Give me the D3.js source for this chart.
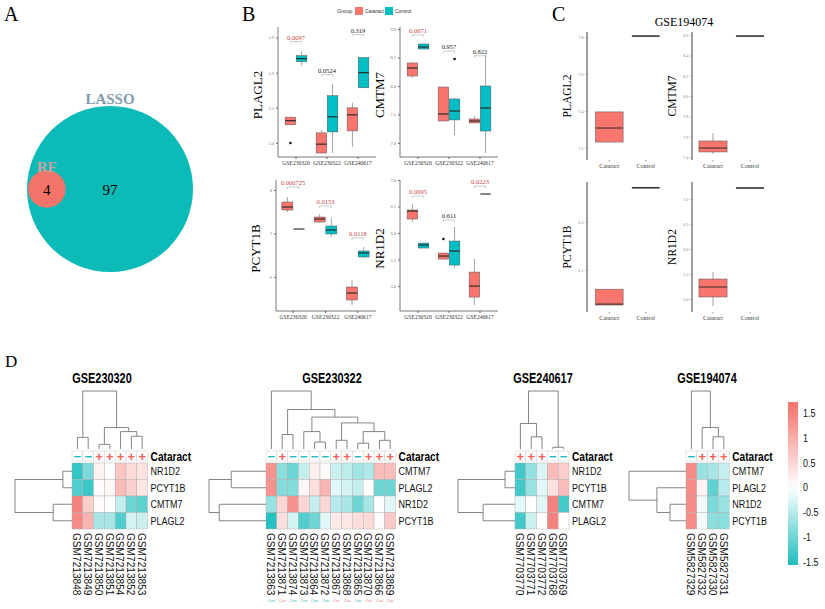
<!DOCTYPE html>
<html>
<head>
<meta charset="utf-8">
<script src="https://cdn.jsdelivr.net/npm/d3@7"></script>
<style>
  body { margin: 0; background: #fff; }
  svg { display: block; }
</style>
</head>
<body>
<div id="chart"></div>
<script>
// ---------------- data ----------------
// panel A: venn of selected genes
const vennSets = ["LASSO", "RF"];
const vennTotals = [101, 4];
const vennRegions = [97, 4]; // LASSO only, shared

// panel B: expression by dataset, box stats = [min, q1, median, q3, max]
const groupsB = ["GSE230320", "GSE230322", "GSE240617"];

const plagl2Cat = [[5.15, 5.155, 5.19, 5.22, 5.225], [4.914, 4.914, 4.99, 5.086, 5.11], [4.966, 5.103, 5.24, 5.30, 5.343]];
const plagl2Con = [[5.66, 5.694, 5.72, 5.746, 5.78], [4.914, 5.094, 5.223, 5.403, 5.506], [5.471, 5.471, 5.6, 5.729, 5.729]];
const plagl2CatOut = [[5.0], [], []];
const plagl2ConOut = [[], [], []];
const plagl2P = ["0.0097", "0.0524", "0.319"];
const plagl2Hi = [true, false, false];
const plagl2PAt = [5.9, 5.617, 5.96];
const plagl2Ticks = [5.0, 5.3, 5.6, 5.9];

const cmtm7Cat = [[8.14, 8.175, 8.316, 8.404, 8.421], [7.386, 7.386, 7.509, 7.982, 7.982], [7.351, 7.351, 7.386, 7.421, 7.474]];
const cmtm7Con = [[8.649, 8.649, 8.684, 8.737, 8.737], [7.14, 7.404, 7.561, 7.772, 7.789], [6.825, 7.21, 7.614, 8.0, 8.544]];
const cmtm7CatOut = [[], [], []];
const cmtm7ConOut = [[], [8.474], []];
const cmtm7P = ["0.0671", "0.957", "0.822"];
const cmtm7Hi = [true, false, false];
const cmtm7PAt = [8.965, 8.684, 8.6];
const cmtm7Ticks = [7.0, 7.5, 8.0, 8.5, 9.0];

const pcyt1bCat = [[7.494, 7.54, 7.609, 7.724, 7.839], [7.241, 7.264, 7.333, 7.379, 7.448], [5.356, 5.471, 5.632, 5.77, 5.931]];
const pcyt1bCon = [[7.103, 7.103, 7.103, 7.103, 7.103], [6.92, 6.989, 7.08, 7.172, 7.356], [6.437, 6.46, 6.552, 6.598, 6.69]];
const pcyt1bCatOut = [[], [], []];
const pcyt1bConOut = [[], [], []];
const pcyt1bP = ["0.000725", "0.0153", "0.0118"];
const pcyt1bHi = [true, true, true];
const pcyt1bPAt = [8.16, 7.724, 6.99];
const pcyt1bTicks = [6, 7, 8];

const nr1d2Cat = [[6.208, 6.264, 6.415, 6.434, 6.547], [5.509, 5.509, 5.566, 5.623, 5.623], [4.642, 4.792, 5.0, 5.264, 5.509]];
const nr1d2Con = [[5.717, 5.717, 5.774, 5.811, 5.811], [5.34, 5.396, 5.66, 5.849, 6.113], [6.736, 6.736, 6.736, 6.736, 6.736]];
const nr1d2CatOut = [[], [5.887], []];
const nr1d2ConOut = [[], [], []];
const nr1d2P = ["0.0095", "0.611", "0.0223"];
const nr1d2Hi = [true, false, true];
const nr1d2PAt = [6.774, 6.32, 6.962];
const nr1d2Ticks = [5.0, 5.5, 6.0, 6.5, 7.0];

// panel C: GSE194074
const genesC = ["PLAGL2", "CMTM7", "PCYT1B", "NR1D2"];
const conditions = ["Cataract", "Control"];
const cCataract = [[7.232, 7.232, 7.308, 7.395, 7.395], [7.43, 7.45, 7.489, 7.558, 7.636], [5.027, 5.027, 5.029, 5.06, 5.06], [4.86, 5.04, 5.24, 5.4, 5.54]];
const cControl = [7.805, 8.59, 5.271, 7.22];
const cTicks = [[7.2, 7.4, 7.6, 7.8], [7.4, 7.6, 7.8, 8.0, 8.2, 8.4, 8.6], [5.1, 5.2], [5.0, 5.5, 6.0, 6.5, 7.0]];
const cDomains = [[7.135, 7.827], [7.371, 8.63], [5.0125, 5.283], [4.74, 7.34]];

// panel D: heatmaps (row-scaled z scores)
const h1Samples = ["GSM7213848", "GSM7213849", "GSM7213850", "GSM7213851", "GSM7213854", "GSM7213852", "GSM7213853"];
const h1Groups = ["-", "-", "+", "+", "+", "+", "+"];
const h1Genes = ["NR1D2", "PCYT1B", "CMTM7", "PLAGL2"];
const h1Values = [
  [-1.4, -0.9, 0.15, 0.0, 0.7, 0.45, 0.35],
  [-1.2, -1.35, 0.05, 0.1, 0.8, 0.55, 0.3],
  [1.5, 0.6, 0.05, 0.0, -0.4, -1.0, -1.1],
  [1.4, 0.9, -0.6, -0.6, -1.2, -0.3, -0.35]
];
const h1ColTree = {h: 1, c: [{h: 0.2, c: [0, 1]}, {h: 0.37, c: [{h: 0.08, c: [2, 3]}, {h: 0.3, c: [4, {h: 0.22, c: [5, 6]}]}]}]};
const h1RowTree = {h: 1, c: [{h: 0.16, c: [0, 1]}, {h: 0.33, c: [2, 3]}]};

const h2Samples = ["GSM7213863", "GSM7213871", "GSM7213874", "GSM7213873", "GSM7213864", "GSM7213872", "GSM7213867", "GSM7213868", "GSM7213865", "GSM7213870", "GSM7213866", "GSM7213869"];
const h2Groups = ["-", "+", "-", "-", "-", "-", "+", "+", "-", "+", "+", "+"];
const h2Genes = ["CMTM7", "PLAGL2", "NR1D2", "PCYT1B"];
const h2Values = [
  [1.3, -0.8, -1.0, -0.4, 0.2, 0.05, -0.35, -0.45, -0.65, -0.55, 0.8, 0.8],
  [1.3, -0.85, -0.85, 0.1, 0.4, 0.9, -0.2, -0.3, -0.4, 0.0, -1.0, -1.0],
  [-0.7, 0.5, 1.3, 0.5, -0.4, 0.5, -0.5, -0.6, -1.0, -0.6, 0.0, -0.2],
  [-1.5, 0.4, -0.3, -1.2, -1.0, -0.2, 0.25, 0.3, 0.4, 0.45, 0.05, 0.65]
];
const h2ColTree = {h: 1, c: [0, {h: 0.68, c: [{h: 0.25, c: [1, 2]}, {h: 0.55, c: [{h: 0.3, c: [3, {h: 0.12, c: [4, 5]}]}, {h: 0.45, c: [{h: 0.15, c: [6, 7]}, {h: 0.3, c: [{h: 0.1, c: [8, 9]}, {h: 0.15, c: [10, 11]}]}]}]}]}]};
const h2RowTree = {h: 1, c: [{h: 0.61, c: [0, 1]}, {h: 0.82, c: [2, 3]}]};

const h3Samples = ["GSM7703770", "GSM7703771", "GSM7703772", "GSM7703768", "GSM7703769"];
const h3Groups = ["+", "+", "+", "-", "-"];
const h3Genes = ["NR1D2", "PCYT1B", "CMTM7", "PLAGL2"];
const h3Values = [
  [-1.3, -0.75, -0.25, 0.8, 0.6],
  [-1.3, -0.7, -0.2, 0.35, 0.8],
  [-0.2, 0.0, -0.2, 1.5, -1.3],
  [-1.3, -0.35, 0.0, 1.5, 0.0]
];
const h3ColTree = {h: 1, c: [{h: 0.44, c: [0, {h: 0.21, c: [1, 2]}]}, {h: 0.03, c: [3, 4]}]};
const h3RowTree = {h: 1, c: [{h: 0.175, c: [0, 1]}, {h: 0.56, c: [2, 3]}]};

const h4Samples = ["GSM5827329", "GSM5827332", "GSM5827330", "GSM5827331"];
const h4Groups = ["-", "+", "+", "+"];
const h4Genes = ["CMTM7", "PLAGL2", "NR1D2", "PCYT1B"];
const h4Values = [
  [1.4, -0.7, -0.6, -0.4],
  [1.4, 0.15, -1.1, -0.5],
  [1.4, -0.1, -0.9, -0.7],
  [1.4, -0.1, -0.8, -0.8]
];
const h4ColTree = {h: 1, c: [0, {h: 0.37, c: [1, {h: 0.21, c: [2, 3]}]}]};
const h4RowTree = {h: 1, c: [0, {h: 0.51, c: [1, {h: 0.28, c: [2, 3]}]}]};

const legendTicks = [1.5, 1, 0.5, 0, -0.5, -1, -1.5];
const colorRange = [-1.56, 1.72];

// ---------------- drawing ----------------
const serifF = "'Liberation Serif', 'Times New Roman', serif";
const sansF = "'Liberation Sans', Arial, Helvetica, sans-serif";
const boxRed = "#F8766D", boxTeal = "#00BFC4";
const heatRed = "#F4706B", heatTeal = "#1DBEBE";
const sigRed = "#C9463D";

const svg = d3.select("#chart").append("svg")
  .attr("width", 825).attr("height", 609)
  .style("font-family", serifF);

// panel letters
[["A", 4, 21], ["B", 242, 21], ["C", 552, 21]].forEach(d => {
  svg.append("text").attr("x", d[1]).attr("y", d[2]).text(d[0]).attr("font-size", "20px");
});
svg.append("text").attr("x", 5).attr("y", 367).text("D").attr("font-size", "17px");

// ----- A: venn -----
const vennR = d3.scalePow().exponent(0.46).domain([0, vennTotals[0]]).range([0, 83]);
const rL = vennR(vennTotals[0]), rF = vennR(vennTotals[1]);
const vcx = 110, vcy = 189;
const fcx = vcx - rL + rF + 1;
svg.append("circle").attr("cx", vcx).attr("cy", vcy).attr("r", rL).attr("fill", "#0CBAB7");
svg.append("circle").attr("cx", fcx).attr("cy", vcy).attr("r", rF).attr("fill", "#F4736A");
svg.append("text").attr("x", vcx).attr("y", vcy - rL - 2).attr("text-anchor", "middle")
  .attr("font-size", "15px").attr("font-weight", "bold").attr("fill", "#7F9CB0").text(vennSets[0]);
svg.append("text").attr("x", fcx).attr("y", vcy - rF + 2).attr("text-anchor", "middle")
  .attr("font-size", "15px").attr("font-weight", "bold").attr("fill", "#C9A3A3").text(vennSets[1]);
svg.append("text").attr("x", vcx).attr("y", vcy + 6).attr("text-anchor", "middle")
  .attr("font-size", "15px").text(vennRegions[0]);
svg.append("text").attr("x", fcx).attr("y", vcy + 6).attr("text-anchor", "middle")
  .attr("font-size", "15px").text(vennRegions[1]);

// ----- B: legend -----
svg.append("text").attr("x", 337).attr("y", 13).attr("font-size", "5.5px").attr("font-family", sansF).attr("fill", "#333").text("Group");
svg.append("rect").attr("x", 355).attr("y", 7).attr("width", 8).attr("height", 8).attr("fill", boxRed);
svg.append("text").attr("x", 365).attr("y", 13).attr("font-size", "5px").attr("font-family", sansF).attr("fill", "#333").text("Cataract");
svg.append("rect").attr("x", 385).attr("y", 7).attr("width", 8).attr("height", 8).attr("fill", boxTeal);
svg.append("text").attr("x", 395).attr("y", 13).attr("font-size", "5px").attr("font-family", sansF).attr("fill", "#333").text("Control");

// ----- B: box plots -----
const bPanels = [
  {gene: "PLAGL2", cat: plagl2Cat, con: plagl2Con, catOut: plagl2CatOut, conOut: plagl2ConOut, p: plagl2P, hi: plagl2Hi, pAt: plagl2PAt, ticks: plagl2Ticks, fmt: ".1f", dom: [4.88, 5.99], x0: 278, x1: 376, y0: 27, y1: 157, bx: [280.5, 373.5]},
  {gene: "CMTM7", cat: cmtm7Cat, con: cmtm7Con, catOut: cmtm7CatOut, conOut: cmtm7ConOut, p: cmtm7P, hi: cmtm7Hi, pAt: cmtm7PAt, ticks: cmtm7Ticks, fmt: ".1f", dom: [6.754, 9.035], x0: 400, x1: 498, y0: 27, y1: 157, bx: [402.5, 495.5]},
  {gene: "PCYT1B", cat: pcyt1bCat, con: pcyt1bCon, catOut: pcyt1bCatOut, conOut: pcyt1bConOut, p: pcyt1bP, hi: pcyt1bHi, pAt: pcyt1bPAt, ticks: pcyt1bTicks, fmt: "d", dom: [5.218, 8.23], x0: 276, x1: 376, y0: 180, y1: 311, bx: [277, 374]},
  {gene: "NR1D2", cat: nr1d2Cat, con: nr1d2Con, catOut: nr1d2CatOut, conOut: nr1d2ConOut, p: nr1d2P, hi: nr1d2Hi, pAt: nr1d2PAt, ticks: nr1d2Ticks, fmt: ".1f", dom: [4.53, 7.0], x0: 400, x1: 498, y0: 180, y1: 311, bx: [402.5, 495.5]}
];

function drawBox(g, cx, bw, ys, s, out, fill, strokeW) {
  const [mn, q1, md, q3, mx] = s;
  g.append("line").attr("x1", cx).attr("x2", cx).attr("y1", ys(mx)).attr("y2", ys(q3)).attr("stroke", "#666").attr("stroke-width", 0.6);
  g.append("line").attr("x1", cx).attr("x2", cx).attr("y1", ys(q1)).attr("y2", ys(mn)).attr("stroke", "#666").attr("stroke-width", 0.6);
  if (ys(q1) - ys(q3) > 0.5) {
    g.append("rect").attr("x", cx - bw / 2).attr("y", ys(q3)).attr("width", bw).attr("height", ys(q1) - ys(q3))
      .attr("fill", fill).attr("stroke", "#555").attr("stroke-width", 0.5);
  }
  g.append("line").attr("x1", cx - bw / 2).attr("x2", cx + bw / 2).attr("y1", ys(md)).attr("y2", ys(md))
    .attr("stroke", "#222").attr("stroke-width", strokeW);
  out.forEach(v => g.append("circle").attr("cx", cx).attr("cy", ys(v)).attr("r", 1.3).attr("fill", "#111"));
}

bPanels.forEach(p => {
  const g = svg.append("g");
  const ys = d3.scaleLinear().domain(p.dom).range([p.y1, p.y0]);
  const xb = d3.scaleBand().domain(groupsB).range(p.bx);
  const bw = xb.bandwidth() * 0.34;
  const off = xb.bandwidth() * 0.18;

  const ya = g.append("g").attr("transform", `translate(${p.x0},0)`)
    .call(d3.axisLeft(ys).tickValues(p.ticks).tickSize(2).tickPadding(2).tickFormat(d3.format(p.fmt)));
  ya.attr("font-family", serifF).attr("font-size", "4.5px");
  ya.select(".domain").remove();
  ya.selectAll("text").attr("fill", "#777");
  ya.selectAll("line").attr("stroke", "#777");

  const xa = g.append("g").attr("transform", `translate(0,${p.y1})`)
    .call(d3.axisBottom(xb).tickSize(2).tickPadding(2));
  xa.attr("font-family", serifF).attr("font-size", "5.6px");
  xa.select(".domain").remove();
  xa.selectAll("text").attr("fill", "#333");
  xa.selectAll("line").attr("stroke", "#666");

  g.append("line").attr("x1", p.x0).attr("x2", p.x0).attr("y1", p.y0).attr("y2", p.y1).attr("stroke", "#555").attr("stroke-width", 0.8);
  g.append("line").attr("x1", p.x0).attr("x2", p.x1).attr("y1", p.y1).attr("y2", p.y1).attr("stroke", "#555").attr("stroke-width", 0.8);

  g.append("text").attr("transform", `translate(${p.x0 - 16},${(p.y0 + p.y1) / 2 + 3}) rotate(-90)`)
    .attr("text-anchor", "middle").attr("font-size", "13px").text(p.gene);

  groupsB.forEach((grp, i) => {
    const c = xb(grp) + xb.bandwidth() / 2;
    drawBox(g, c - off, bw, ys, p.cat[i], p.catOut[i], boxRed, 1.1);
    drawBox(g, c + off, bw, ys, p.con[i], p.conOut[i], boxTeal, 1.1);
    const yy = ys(p.pAt[i]);
    g.append("text").attr("x", c).attr("y", yy + 2).attr("text-anchor", "middle")
      .attr("font-size", "6.5px").attr("fill", p.hi[i] ? sigRed : "#222").text(p.p[i]);
    g.append("path").attr("d", `M${c - off},${yy + 6}V${yy + 4}H${c + off}V${yy + 6}`)
      .attr("fill", "none").attr("stroke", "#999").attr("stroke-width", 0.5);
  });
});

// ----- C: GSE194074 -----
svg.append("text").attr("x", 684).attr("y", 26).attr("text-anchor", "middle").attr("font-size", "12px").text("GSE194074");
const cLayout = [
  {x0: 587, y0: 32, y1: 160, bx: [591, 664]},
  {x0: 692, y0: 32, y1: 160, bx: [694.5, 768.5]},
  {x0: 587, y0: 182, y1: 312, bx: [591, 664]},
  {x0: 692, y0: 182, y1: 312, bx: [694.5, 768.5]}
];
genesC.forEach((gene, i) => {
  const L = cLayout[i];
  const g = svg.append("g");
  const ys = d3.scaleLinear().domain(cDomains[i]).range([L.y1, L.y0]);
  const xb = d3.scaleBand().domain(conditions).range(L.bx);
  const bw = xb.bandwidth() * 0.76;

  const ya = g.append("g").attr("transform", `translate(${L.x0},0)`)
    .call(d3.axisLeft(ys).tickValues(cTicks[i]).tickSize(1.5).tickPadding(2).tickFormat(d3.format(".1f")));
  ya.attr("font-family", serifF).attr("font-size", "4.5px");
  ya.select(".domain").remove();
  ya.selectAll("text").attr("fill", "#888");
  ya.selectAll("line").attr("stroke", "#888");
  g.append("line").attr("x1", L.x0).attr("x2", L.x0).attr("y1", L.y0).attr("y2", L.y1).attr("stroke", "#888").attr("stroke-width", 1.6);

  const xa = g.append("g").attr("transform", `translate(0,${L.y1})`)
    .call(d3.axisBottom(xb).tickSize(1.5).tickPadding(2));
  xa.attr("font-family", serifF).attr("font-size", "6px");
  xa.select(".domain").remove();
  xa.selectAll("text").attr("fill", "#333");
  xa.selectAll("line").attr("stroke", "#999");

  g.append("text").attr("transform", `translate(${L.x0 - 16},${(L.y0 + L.y1) / 2}) rotate(-90)`)
    .attr("text-anchor", "middle").attr("font-size", "11.5px").text(gene);

  drawBox(g, xb("Cataract") + xb.bandwidth() / 2, bw, ys, cCataract[i], [], boxRed, 0.9);
  const cc = xb("Control") + xb.bandwidth() / 2;
  g.append("line").attr("x1", cc - bw / 2).attr("x2", cc + bw / 2)
    .attr("y1", ys(cControl[i])).attr("y2", ys(cControl[i])).attr("stroke", "#333").attr("stroke-width", 1.6);
});

// ----- D: heatmaps -----
const color = d3.scaleLinear().domain([colorRange[0], 0, colorRange[1]]).range([heatTeal, "#FFFFFF", heatRed]).clamp(true);
const cellW = 10.8, heatTop = 463, cellH = 16.5, annTop = 451, annH = 10;
const narrow = 0.78;

function layoutTree(node, leafPos) {
  if (typeof node === "number") return {p: leafPos(node), h: 0};
  const kids = node.c.map(k => layoutTree(k, leafPos));
  return {p: d3.mean(kids, k => k.p), h: node.h, kids: kids};
}
function treeSegments(n, out) {
  if (!n.kids) return out;
  n.kids.forEach(k => { out.push([k.p, k.h, k.p, n.h]); treeSegments(k, out); });
  out.push([d3.min(n.kids, k => k.p), n.h, d3.max(n.kids, k => k.p), n.h]);
  return out;
}

const heatmaps = [
  {title: "GSE230320", samples: h1Samples, groups: h1Groups, genes: h1Genes, values: h1Values, colTree: h1ColTree, rowTree: h1RowTree, x0: 72, titleX: 102},
  {title: "GSE230322", samples: h2Samples, groups: h2Groups, genes: h2Genes, values: h2Values, colTree: h2ColTree, rowTree: h2RowTree, x0: 266, titleX: 332, tags: true},
  {title: "GSE240617", samples: h3Samples, groups: h3Groups, genes: h3Genes, values: h3Values, colTree: h3ColTree, rowTree: h3RowTree, x0: 515, titleX: 543},
  {title: "GSE194074", samples: h4Samples, groups: h4Groups, genes: h4Genes, values: h4Values, colTree: h4ColTree, rowTree: h4RowTree, x0: 686, titleX: 707}
];

heatmaps.forEach(hm => {
  const g = svg.append("g").attr("font-family", sansF);
  const nC = hm.samples.length, nR = hm.genes.length;
  const xc = d3.scaleBand().domain(d3.range(nC)).range([hm.x0, hm.x0 + nC * cellW]);
  const yr = d3.scaleBand().domain(d3.range(nR)).range([heatTop, heatTop + nR * cellH]);
  const right = hm.x0 + nC * cellW;

  // title
  g.append("text").attr("transform", `translate(${hm.titleX},383) scale(${narrow},1)`)
    .attr("text-anchor", "middle").attr("font-size", "14px").attr("font-weight", "bold").text(hm.title);

  // column dendrogram
  const hy = d3.scaleLinear().domain([0, 1]).range([449, 391]);
  const colSegs = treeSegments(layoutTree(hm.colTree, i => xc(i) + xc.bandwidth() / 2), []);
  g.selectAll(".cseg").data(colSegs).enter().append("line")
    .attr("x1", d => d[0]).attr("y1", d => hy(d[1])).attr("x2", d => d[2]).attr("y2", d => hy(d[3]))
    .attr("stroke", "#777").attr("stroke-width", 0.9);

  // row dendrogram
  const hx = d3.scaleLinear().domain([0, 1]).range([hm.x0, hm.x0 - 57]);
  const rowSegs = treeSegments(layoutTree(hm.rowTree, i => yr(i) + yr.bandwidth() / 2), []);
  g.selectAll(".rseg").data(rowSegs).enter().append("line")
    .attr("x1", d => hx(d[1])).attr("y1", d => d[0]).attr("x2", d => hx(d[3])).attr("y2", d => d[2])
    .attr("stroke", "#777").attr("stroke-width", 0.9);

  // annotation row
  g.selectAll(".ann").data(hm.groups).enter().append("rect")
    .attr("x", (d, i) => xc(i)).attr("y", annTop).attr("width", xc.bandwidth()).attr("height", annH)
    .attr("fill", "#fff").attr("stroke", "#ccc").attr("stroke-width", 0.5);
  g.selectAll(".annsym").data(hm.groups).enter().append("text")
    .attr("x", (d, i) => xc(i) + xc.bandwidth() / 2).attr("y", annTop + annH / 2 + 0.5)
    .attr("text-anchor", "middle").attr("dominant-baseline", "central")
    .attr("font-size", "13px").attr("font-weight", "bold")
    .attr("fill", d => d === "+" ? "#F0625C" : "#1DBEBE")
    .text(d => d === "+" ? "+" : "\u2212");
  g.append("text").attr("transform", `translate(${right + 3},${annTop + annH / 2}) scale(${narrow},1)`)
    .attr("dominant-baseline", "central").attr("font-size", "13px").attr("font-weight", "bold").text("Cataract");

  // cells
  const cells = [];
  hm.values.forEach((row, r) => row.forEach((v, c) => cells.push({r: r, c: c, v: v})));
  g.selectAll(".cell").data(cells).enter().append("rect")
    .attr("x", d => xc(d.c)).attr("y", d => yr(d.r))
    .attr("width", xc.bandwidth()).attr("height", yr.bandwidth())
    .attr("fill", d => color(d.v)).attr("stroke", "#aaa").attr("stroke-width", 0.4);

  // row labels
  g.selectAll(".rlab").data(hm.genes).enter().append("text")
    .attr("transform", (d, i) => `translate(${right + 3},${yr(i) + yr.bandwidth() / 2}) scale(${narrow},1)`)
    .attr("dominant-baseline", "central").attr("font-size", "11.5px").attr("fill", "#111").text(d => d);

  // column labels
  g.selectAll(".clab").data(hm.samples).enter().append("text")
    .attr("transform", (d, i) => `translate(${xc(i) + xc.bandwidth() / 2},${heatTop + nR * cellH + 4}) rotate(90) scale(0.88,1)`)
    .attr("dy", "0.36em").attr("font-size", "11.5px").attr("fill", "#111").text(d => d);

  if (hm.tags) {
    g.selectAll(".tag").data(hm.groups).enter().append("text")
      .attr("x", (d, i) => xc(i) + xc.bandwidth() / 2).attr("y", 602)
      .attr("text-anchor", "middle").attr("font-size", "4px")
      .attr("fill", d => d === "+" ? "#E0766F" : "#3FB8B8")
      .text(d => d === "+" ? "Cat" : "Con");
  }
});

// colour bar
const legY = d3.scaleLinear().domain([-1.5, 1.5]).range([562, 413]);
const defs = svg.append("defs");
const grad = defs.append("linearGradient").attr("id", "hmgrad").attr("x1", 0).attr("x2", 0).attr("y1", 0).attr("y2", 1);
d3.range(0, 1.0001, 0.05).forEach(t => {
  const v = colorRange[1] - t * (colorRange[1] - colorRange[0]);
  grad.append("stop").attr("offset", t).attr("stop-color", color(v));
});
svg.append("rect").attr("x", 788).attr("y", legY(colorRange[1])).attr("width", 10)
  .attr("height", legY(colorRange[0]) - legY(colorRange[1])).attr("fill", "url(#hmgrad)");
svg.selectAll(".legt").data(legendTicks).enter().append("text")
  .attr("transform", d => `translate(803,${legY(d)}) scale(${narrow},1)`)
  .attr("dominant-baseline", "central").attr("font-family", sansF).attr("font-size", "11.5px")
  .attr("fill", "#111").text(d => String(d));
</script>
</body>
</html>
